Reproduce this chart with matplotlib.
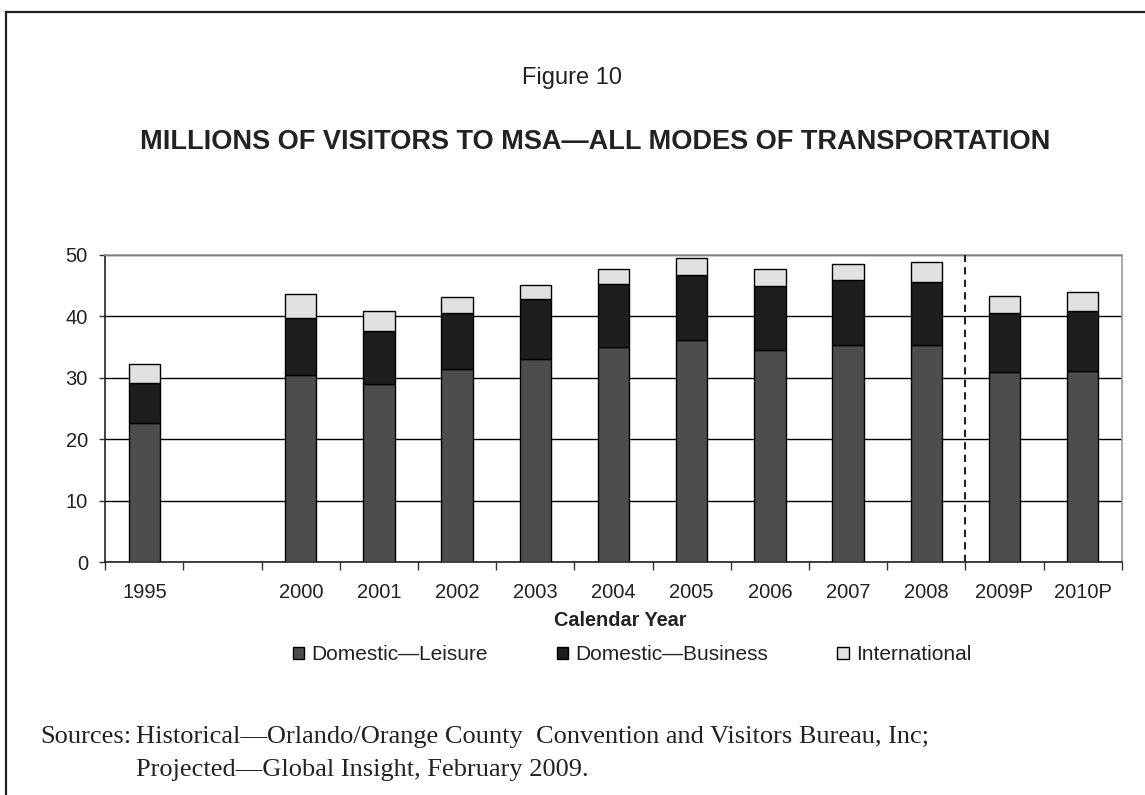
import numpy as np
import matplotlib
matplotlib.use("Agg")
import matplotlib.pyplot as plt
from matplotlib.patches import Patch
from matplotlib.lines import Line2D

categories = ["1995", "", "2000", "2001", "2002", "2003", "2004", "2005",
              "2006", "2007", "2008", "2009P", "2010P"]
leisure = [22.7, np.nan, 30.4, 29.0, 31.5, 33.1, 35.1, 36.2, 34.5, 35.3, 35.4, 31.0, 31.2]
business = [6.5, np.nan, 9.4, 8.6, 9.1, 9.8, 10.2, 10.5, 10.5, 10.6, 10.2, 9.6, 9.7]
international = [3.1, np.nan, 3.9, 3.3, 2.5, 2.2, 2.5, 2.8, 2.8, 2.7, 3.3, 2.8, 3.0]
series_names = ["Domestic\u2014Leisure", "Domestic\u2014Business", "International"]
yticks = [0, 10, 20, 30, 40, 50]

plt.rcParams['font.family'] = ['Liberation Sans', 'DejaVu Sans']

W, H = 1145, 795
fig = plt.figure(figsize=(W / 100, H / 100), dpi=100)

# outer frame (top and left only)
fig.add_artist(Line2D([6 / W, 6 / W], [0, 1 - 12 / H], transform=fig.transFigure,
                      color="#222222", lw=1.6))
fig.add_artist(Line2D([6 / W, 1], [1 - 12 / H, 1 - 12 / H], transform=fig.transFigure,
                      color="#222222", lw=1.6))

ax = fig.add_axes([105.3 / W, 1 - 562.3 / H, (1121.7 - 105.3) / W, (562.3 - 255) / H])

x = np.arange(len(categories))
colors = ["#4d4d4d", "#1e1e1e", "#e1e1e1"]
bw = 0.40
lei = np.array(leisure)
bus = np.array(business)
intl = np.array(international)
ax.bar(x, lei, bw, color=colors[0], edgecolor="black", lw=1.0, zorder=3)
ax.bar(x, bus, bw, bottom=lei, color=colors[1], edgecolor="black", lw=1.0, zorder=3)
ax.bar(x, intl, bw, bottom=lei + bus, color=colors[2], edgecolor="black", lw=1.0, zorder=3)

ax.set_xlim(-0.5, len(categories) - 0.5)
ax.set_ylim(0, 50)
ax.set_yticks(yticks)
ax.set_yticklabels([str(v) for v in yticks], fontsize=14.5, color="#222222")

ax.set_xticks(np.arange(len(categories) + 1) - 0.5)
ax.set_xticklabels([])
ax.set_xticks(x, minor=True)
ax.set_xticklabels(categories, minor=True, fontsize=14.5, color="#222222")
ax.tick_params(axis="x", which="major", length=5.5, width=1.0, direction="out", color="#333333")
ax.tick_params(axis="x", which="minor", length=0, pad=15)
ax.tick_params(axis="y", length=4.5, width=1.0, direction="out", color="#333333", pad=8)

ax.set_axisbelow(True)
ax.yaxis.grid(True, color="black", lw=1.0)
for s in ["top", "right"]:
    ax.spines[s].set_color("#999999")
    ax.spines[s].set_linewidth(1.2)
for s in ["left", "bottom"]:
    ax.spines[s].set_color("#222222")
    ax.spines[s].set_linewidth(1.2)

ax.plot([10.5, 10.5], [0, 50], color="#222222", lw=1.5, ls=(0, (3.5, 2.5)), zorder=4)

fig.text(572 / W, 1 - 78 / H, "Figure 10", ha="center", va="center", fontsize=17, color="#222222")
fig.text(595 / W, 1 - 142 / H, "MILLIONS OF VISITORS TO MSA\u2014ALL MODES OF TRANSPORTATION",
         ha="center", va="center", fontsize=19.5, fontweight="bold", color="#222222")
fig.text(620 / W, 1 - 620 / H, "Calendar Year", ha="center", va="center",
         fontsize=14.3, fontweight="bold", color="#222222")

handles = [Patch(facecolor=c, edgecolor="black", lw=1.0) for c in colors]
fig.legend(handles, series_names, loc="center", bbox_to_anchor=(632 / W, 1 - 655 / H),
           ncol=3, frameon=False, fontsize=15, handlelength=0.55, handleheight=0.55,
           handletextpad=0.35, columnspacing=3.3, labelcolor="#222222",
           borderpad=0, borderaxespad=0)

serif = ['Liberation Serif', 'DejaVu Serif']
fs = 19
fig.text(40 / W, 1 - 737 / H, "Sources:", ha="left", va="center", fontsize=fs,
         family=serif, color="#222222")
fig.text(136 / W, 1 - 737 / H,
         "Historical\u2014Orlando/Orange County  Convention and Visitors Bureau, Inc;",
         ha="left", va="center", fontsize=fs, family=serif, color="#222222")
fig.text(136 / W, 1 - 770 / H, "Projected\u2014Global Insight, February 2009.",
         ha="left", va="center", fontsize=fs, family=serif, color="#222222")

fig.savefig("out.png", dpi=100)
